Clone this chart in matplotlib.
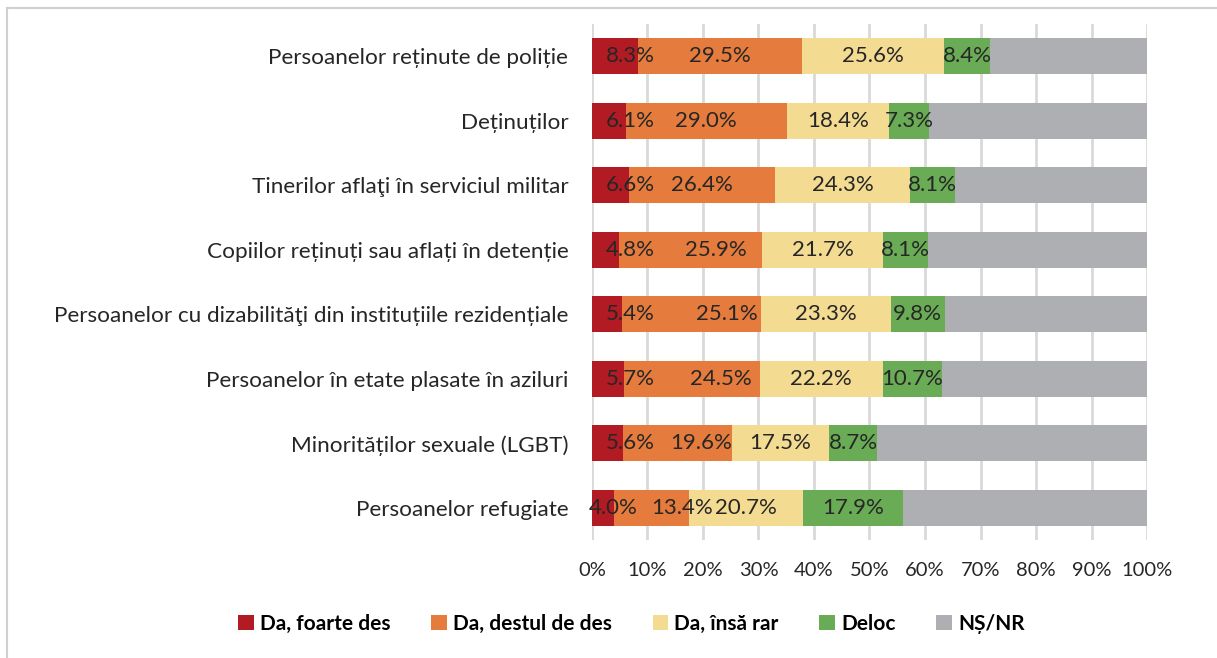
import matplotlib.pyplot as plt
from matplotlib.patches import Rectangle

plt.rcParams['font.family'] = ['Lato', 'DejaVu Sans']

categories = [
    'Persoanelor reținute de poliție',
    'Deținuților',
    'Tinerilor aflaţi în serviciul militar',
    'Copiilor reținuți sau aflați în detenție',
    'Persoanelor cu dizabilităţi din instituțiile rezidențiale',
    'Persoanelor în etate plasate în aziluri',
    'Minorităților sexuale (LGBT)',
    'Persoanelor refugiate',
]
foarte_des = [8.3, 6.1, 6.6, 4.8, 5.4, 5.7, 5.6, 4.0]
destul_de_des = [29.5, 29.0, 26.4, 25.9, 25.1, 24.5, 19.6, 13.4]
insa_rar = [25.6, 18.4, 24.3, 21.7, 23.3, 22.2, 17.5, 20.7]
deloc = [8.4, 7.3, 8.1, 8.1, 9.8, 10.7, 8.7, 17.9]
ns_nr = [28.2, 39.2, 34.6, 39.5, 36.4, 36.9, 48.6, 44.0]

series_names = ['Da, foarte des', 'Da, destul de des', 'Da, însă rar', 'Deloc', 'NȘ/NR']
colors = ['#B21B24', '#E57B3C', '#F4DB92', '#6AAC56', '#AEAFB3']
series = [foarte_des, destul_de_des, insa_rar, deloc, ns_nr]

# label shifts (in % units) the original has for the first two segments
shift_first = [2.7, 3.8, 3.55, 4.45, 4.15, 4.0, 4.05, 1.8]
shift_second = [0, 0, 0, 4.5, 6.3, 5.2, 4.3, 5.6]

fig = plt.figure(figsize=(12.17, 6.58), dpi=100)
ax = fig.add_axes([0.4864, 0.1793, 0.4561, 0.7842])

y = list(range(len(categories)))
left = [0.0] * len(categories)
for k, (vals, name, col) in enumerate(zip(series, series_names, colors)):
    ax.barh(y, vals, left=left, height=0.56, color=col, label=name, zorder=3)
    if k < 4:
        for i, v in enumerate(vals):
            cx = left[i] + v / 2
            if k == 0:
                cx += shift_first[i]
            elif k == 1:
                cx += shift_second[i]
            ax.text(cx, i, f'{v:.1f}%', ha='center', va='center',
                    fontsize=16, color='#262626', zorder=4)
    left = [a + b for a, b in zip(left, vals)]

ax.set_xlim(0, 100)
ax.set_ylim(len(categories) - 0.5, -0.5)
ax.set_yticks(y)
ax.set_yticklabels(categories, fontsize=16.2, color='#262626')
ax.set_xticks(range(0, 101, 10))
ax.set_xticklabels([f'{t}%' for t in range(0, 101, 10)], fontsize=14.5, color='#262626')
ax.tick_params(axis='both', length=0)
ax.tick_params(axis='y', pad=17)
ax.tick_params(axis='x', pad=16)
ax.grid(axis='x', color='#D9D9D9', linewidth=2, zorder=0)
for s in ax.spines.values():
    s.set_visible(False)

fig.legend(loc='center', bbox_to_anchor=(0.519, 0.052), ncol=5, frameon=False,
           handlelength=0.75, handleheight=0.75, handletextpad=0.3,
           columnspacing=1.95, prop={'weight': 'bold', 'size': 15})

fig.patches.append(Rectangle((7 / 1217, -0.01), 1.0, 1 - 8 / 658 + 0.01,
                             transform=fig.transFigure, fill=False,
                             edgecolor='#D0D0D0', linewidth=1.5))

fig.savefig('out.png', dpi=100)
